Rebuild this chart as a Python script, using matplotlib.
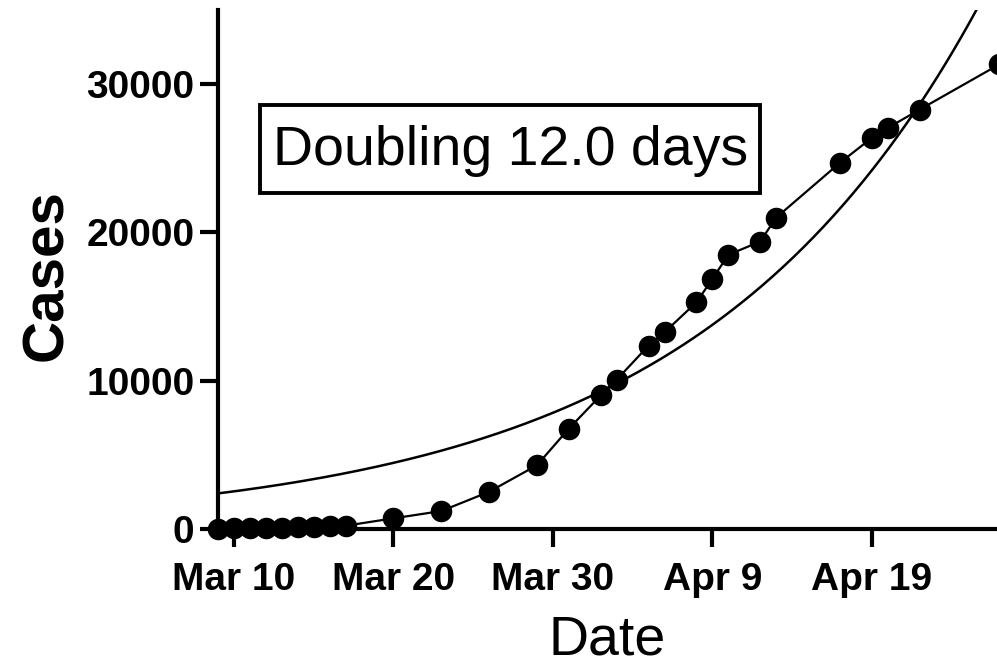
import matplotlib
matplotlib.use("Agg")
import matplotlib.pyplot as plt
import matplotlib.patches as mpatches
import numpy as np
import pandas as pd

plt.rcParams['font.family'] = ['Liberation Sans', 'DejaVu Sans']

# observed cumulative cases
dates = ['2020-03-09', '2020-03-10', '2020-03-11', '2020-03-12', '2020-03-13',
         '2020-03-14', '2020-03-15', '2020-03-16', '2020-03-17', '2020-03-20',
         '2020-03-23', '2020-03-26', '2020-03-29', '2020-03-31', '2020-04-02',
         '2020-04-03', '2020-04-05', '2020-04-06', '2020-04-08', '2020-04-09',
         '2020-04-10', '2020-04-12', '2020-04-13', '2020-04-17', '2020-04-19',
         '2020-04-20', '2020-04-22', '2020-04-27']
cases = [30, 40, 50, 70, 90, 110, 140, 170, 220, 720,
         1210, 2510, 4300, 6770, 9010, 10070, 12370, 13270, 15290, 16860,
         18490, 19390, 21000, 24700, 26380, 27050, 28290, 31340]

# exponential fit curve as drawn (start value, growth)
fit_start = '2020-03-09'
fit_y0 = 2400
fit_doubling = 12.3
label = 'Doubling 12.0 days'

tick_dates = ['2020-03-10', '2020-03-20', '2020-03-30', '2020-04-09', '2020-04-19']
y_ticks = [0, 10000, 20000, 30000]

x = pd.to_datetime(dates)
t0 = pd.Timestamp(fit_start)
tfit = pd.date_range(t0, pd.Timestamp('2020-04-28'), periods=400)
days = np.asarray((tfit - t0) / pd.Timedelta(days=1))
yfit = fit_y0 * 2 ** (days / fit_doubling)

fig = plt.figure(figsize=(9.97, 6.72), dpi=100)
ax = fig.add_axes([0.2187, 0.2128, 0.7813, 0.7722])

ax.plot(tfit, yfit, color='black', lw=1.8)
ax.plot(x, cases, color='black', lw=1.6, marker='o', ms=14.5, clip_on=False, zorder=3)

ax.set_xlim(t0, t0 + pd.Timedelta(days=48.85))
ax.set_ylim(0, 35000)

ax.set_yticks(y_ticks)
ticks = pd.to_datetime(tick_dates)
ax.set_xticks(ticks)
ax.set_xticklabels([d.strftime('%b ') + str(d.day) for d in ticks])

for s in ['top', 'right']:
    ax.spines[s].set_visible(False)
for s in ['left', 'bottom']:
    ax.spines[s].set_linewidth(3)

ax.tick_params(width=3, length=13, direction='out', labelsize=28)
ax.tick_params(axis='x', pad=11)
ax.tick_params(axis='y', pad=4)
for lab in ax.get_xticklabels() + ax.get_yticklabels():
    lab.set_fontweight('bold')

ax.set_xlabel('Date', fontsize=40, labelpad=12)
ax.set_ylabel('Cases', fontsize=42, fontweight='bold')
ax.yaxis.set_label_coords(-0.185, 0.49)

ax.add_patch(mpatches.Rectangle((0.0539, 0.6474), 0.6419, 0.1696, transform=ax.transAxes,
                                fc='white', ec='black', lw=2.8, zorder=4))
ax.text(0.375, 0.728, label, transform=ax.transAxes,
        fontsize=40, ha='center', va='center', zorder=5)

fig.savefig('out.png', dpi=100)
